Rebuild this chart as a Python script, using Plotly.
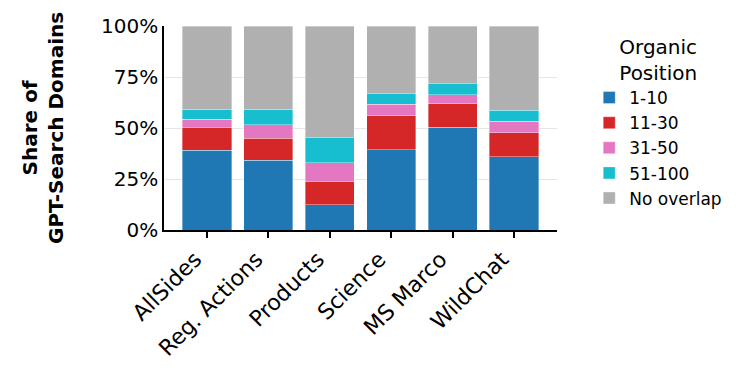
import plotly.graph_objects as go

# Share of GPT-search domains by organic position bucket
datasets = ['AllSides', 'Reg. Actions', 'Products', 'Science', 'MS Marco', 'WildChat']
pos_1_10 = [39.0, 34.3, 12.4, 39.3, 50.4, 35.9]
pos_11_30 = [11.4, 10.7, 11.6, 16.7, 11.4, 11.7]
pos_31_50 = [3.9, 6.6, 9.0, 5.7, 4.4, 5.8]
pos_51_100 = [4.9, 7.6, 12.2, 5.2, 5.4, 5.2]
no_overlap = [40.8, 40.8, 54.8, 33.1, 28.4, 41.4]

series = [
    ('1-10', pos_1_10, '#1f77b4'),
    ('11-30', pos_11_30, '#d62728'),
    ('31-50', pos_31_50, '#e377c2'),
    ('51-100', pos_51_100, '#17becf'),
    ('No overlap', no_overlap, '#b0b0b0'),
]

FONT = 'DejaVu Sans'

fig = go.Figure()
for name, vals, color in series:
    fig.add_trace(go.Bar(
        x=datasets,
        y=vals,
        name=name,
        width=0.8,
        marker=dict(color=color, line=dict(color='rgba(255,255,255,0.6)', width=0.6)),
    ))

# y title as an annotation so it sits where the original does
fig.add_annotation(
    text='<b>Share of<br>GPT-Search Domains</b>',
    xref='paper', yref='paper',
    x=-0.308, y=0.5,
    xanchor='center', yanchor='middle',
    textangle=-90,
    showarrow=False,
    font=dict(size=20),
)

# page body adds 8px, so margins are offset to land the plot at the same spot
fig.update_layout(
    barmode='stack',
    width=753,
    height=377,
    margin=dict(l=156, r=204, t=18, b=155, autoexpand=False),
    plot_bgcolor='white',
    paper_bgcolor='white',
    font=dict(family=FONT, size=20, color='black'),
    legend=dict(
        title=dict(text='Organic<br>Position', side='top center', font=dict(size=20)),
        font=dict(size=17),
        traceorder='normal',
        x=1.082,
        y=0.99,
        xanchor='left',
        yanchor='top',
        tracegroupgap=0,
    ),
    xaxis=dict(
        range=[-0.7, 5.7],
        tickangle=-45,
        tickfont=dict(size=22),
        ticklabelshift=-12,
        showline=True,
        linecolor='black',
        linewidth=1.5,
        ticks='outside',
        ticklen=6,
        tickwidth=1.5,
        tickcolor='black',
        automargin=False,
    ),
    yaxis=dict(
        range=[0, 100],
        tickvals=[0, 25, 50, 75, 100],
        ticktext=['0%', '25%', '50%', '75%', '100%'],
        tickfont=dict(size=20),
        showline=True,
        linecolor='black',
        linewidth=1.5,
        showgrid=True,
        gridcolor='#e6e6e6',
        gridwidth=1.2,
        zeroline=False,
        automargin=False,
    ),
)

fig.write_html("out.html")
